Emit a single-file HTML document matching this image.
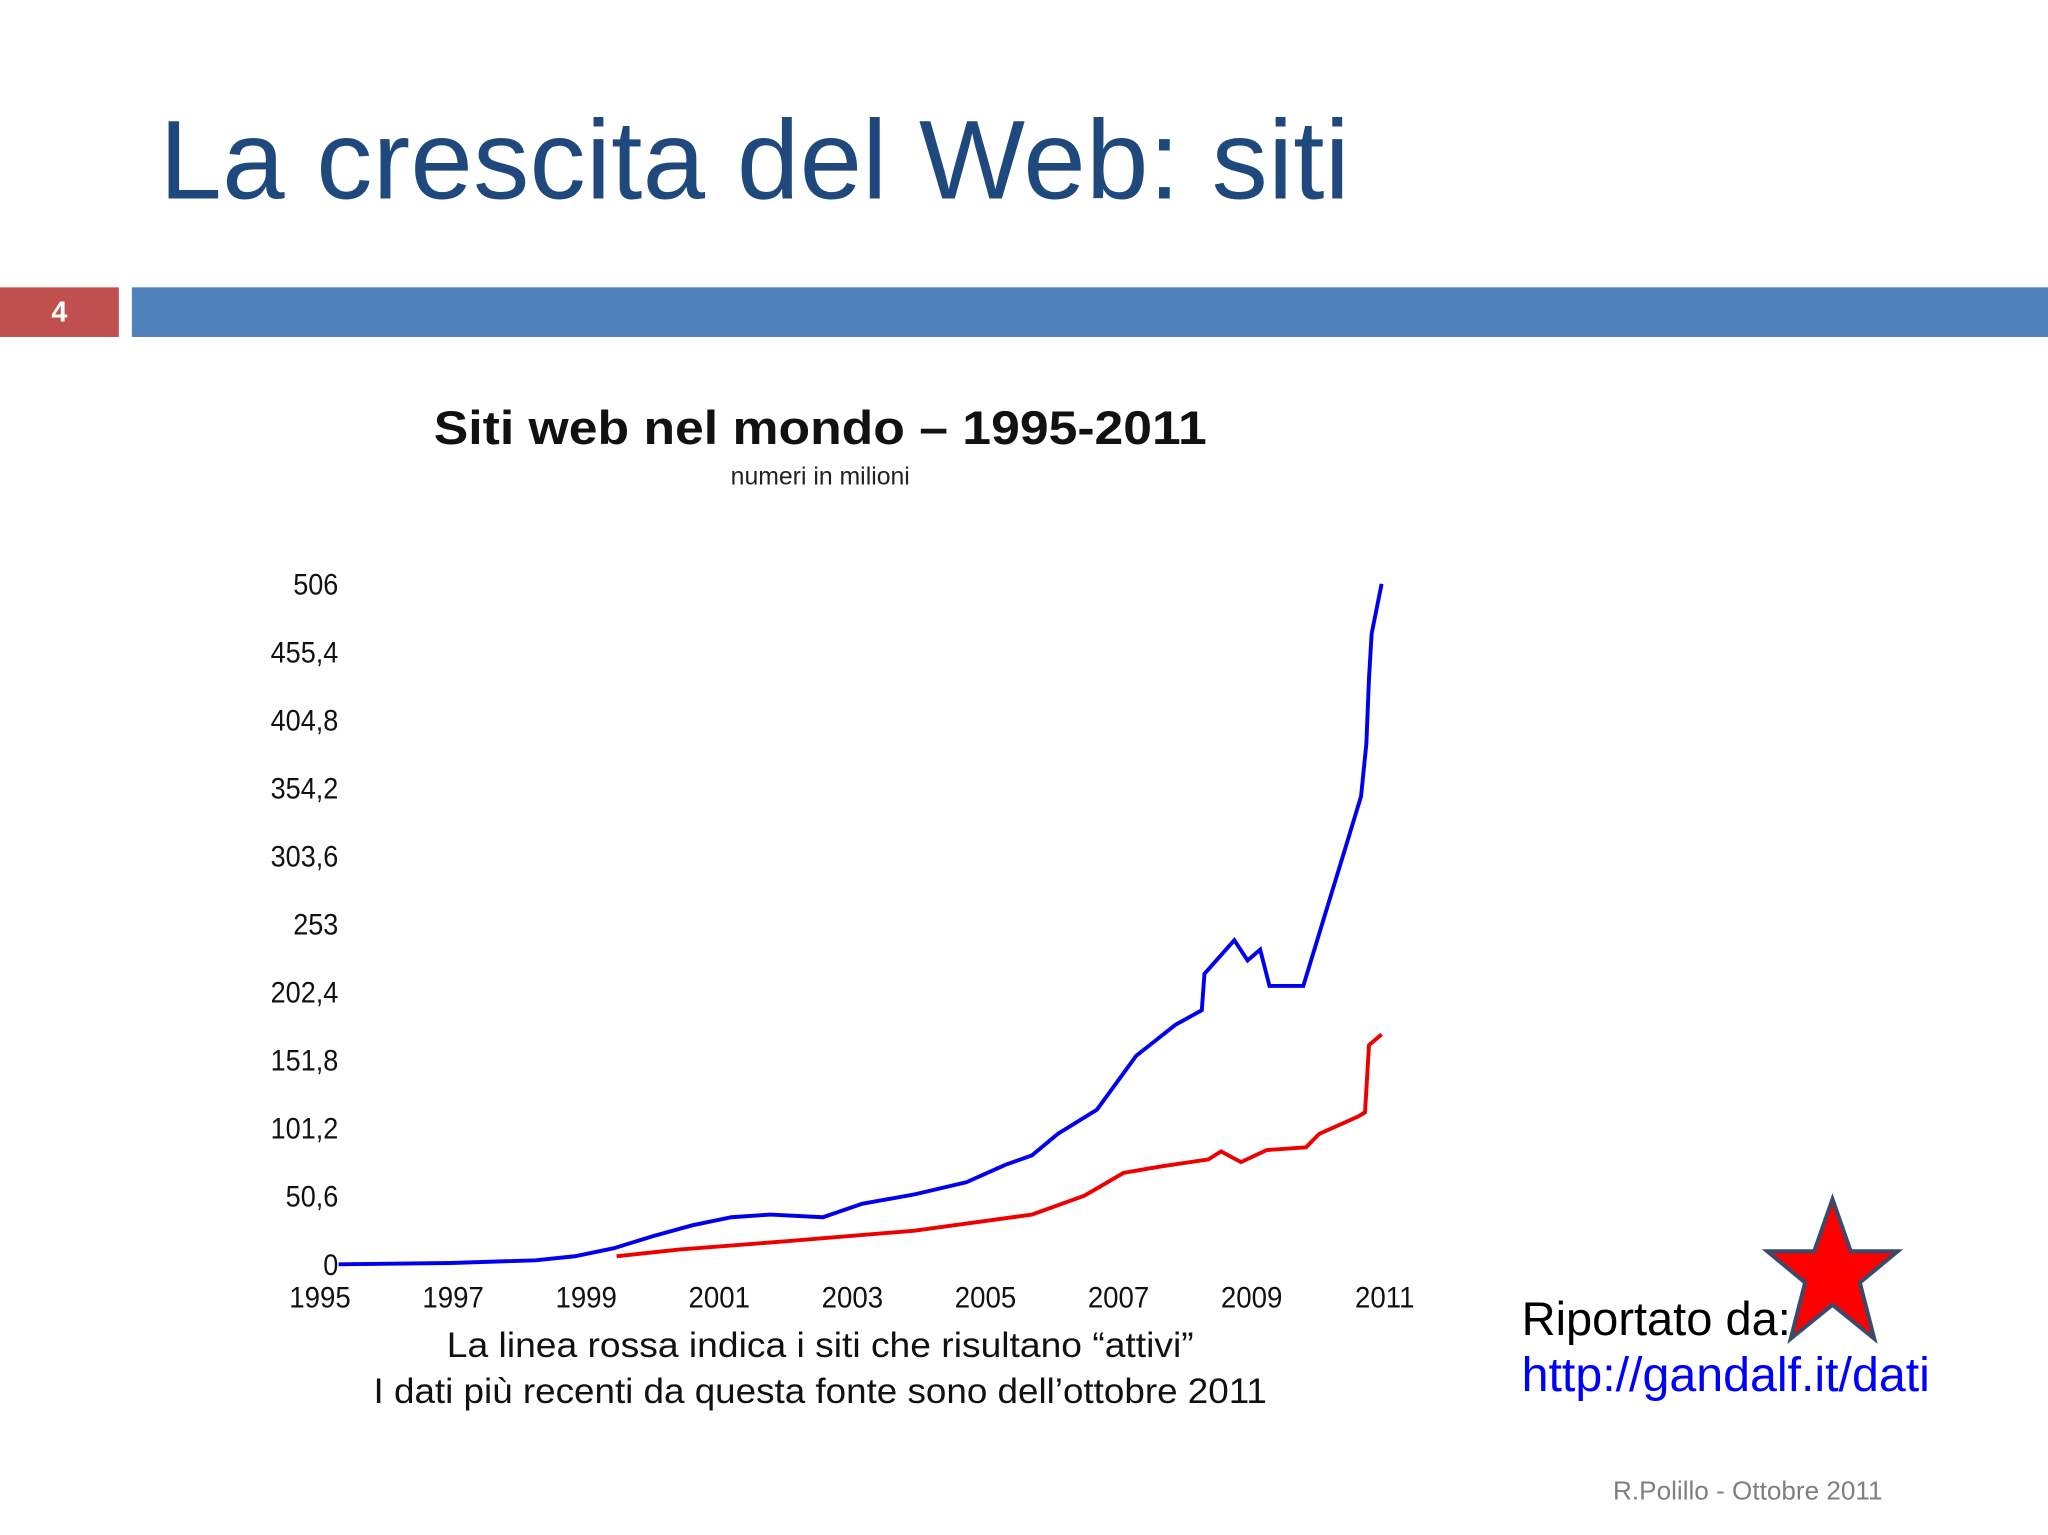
<!DOCTYPE html>
<html><head><meta charset="utf-8">
<style>
html,body{margin:0;padding:0;background:#fff;overflow:hidden}
#wrap{position:absolute;left:0;top:0;width:1568px;height:1175px;transform:scale(1.30612);transform-origin:0 0;font-family:"Liberation Sans",sans-serif}
.abs{position:absolute;white-space:nowrap}
</style></head><body>
<div id="wrap">
<div class="abs" style="left:122px;top:74px;font-size:86px;color:#1f497d;letter-spacing:0.2px">La crescita del Web: siti</div>
<div class="abs" style="left:0;top:220px;width:91px;height:38px;background:#c0504d;color:#fff;font-weight:bold;font-size:22px;line-height:38px;text-align:center">4</div>
<div class="abs" style="left:101px;top:220px;width:1467px;height:38px;background:#4f81bd"></div>
<svg class="abs" style="left:0;top:0" width="1568" height="1175">
<text x="628" y="340" text-anchor="middle" font-size="36" font-weight="bold" fill="#111" transform="translate(628 0) scale(1.1 1) translate(-628 0)">Siti web nel mondo – 1995-2011</text>
<text x="628" y="371" text-anchor="middle" font-size="19" fill="#222">numeri in milioni</text>
<g id="yaxis"></g>
<g id="xaxis"></g>
<polyline id="blue" fill="none" stroke="#0000ee" stroke-width="3"/>
<polyline id="red" fill="none" stroke="#ee0000" stroke-width="3"/>
<text x="628" y="1039" text-anchor="middle" font-size="27" fill="#111" transform="translate(628 0) scale(1.056 1) translate(-628 0)">La linea rossa indica i siti che risultano “attivi”</text>
<text x="628" y="1074" text-anchor="middle" font-size="27" fill="#111" transform="translate(628 0) scale(1.044 1) translate(-628 0)">I dati più recenti da questa fonte sono dell’ottobre 2011</text>
<text x="1165" y="1022" font-size="36" fill="#000">Riportato da:</text>
<text x="1165" y="1065" font-size="37" fill="#0000ff">http://gandalf.it/dati</text>
<rect x="1519" y="1030" width="50" height="50" fill="#fff"/>
<polygon fill="#ff0000" stroke="#3a4a6a" stroke-width="3" points="1403,918 1417,958 1453,958 1424,982 1435,1025 1403,999 1371,1025 1382,982 1353,958 1389,958"/>
<text x="1235" y="1148" font-size="20" fill="#7f7f7f">R.Polillo - Ottobre 2011</text>
</svg>
</div>
<script>
const yTicks=["0","50,6","101,2","151,8","202,4","253","303,6","354,2","404,8","455,4","506"];
const yTickVals=[0,50.6,101.2,151.8,202.4,253,303.6,354.2,404.8,455.4,506];
const xTicks=[1995,1997,1999,2001,2003,2005,2007,2009,2011];
const blueYears=[1995.28,1996.97,1998.25,1998.84,1999.43,2000.02,2000.61,2001.2,2001.79,2002.58,2003.17,2003.96,2004.74,2005.33,2005.73,2006.12,2006.71,2007.3,2007.89,2008.29,2008.33,2008.78,2008.98,2009.17,2009.31,2009.82,2010.06,2010.45,2010.69,2010.77,2010.81,2010.85,2011.0];
const blueVals=[0,1,3,6,12,21,29,35,37,35,45,52,61,74,81,97,115,155,178,189,216,241,226,234,207,207,246,309,348,387,436,469,506];
const redYears=[1999.47,2000.41,2001.99,2003.96,2005.73,2006.52,2007.11,2007.7,2008.39,2008.58,2008.88,2009.27,2009.86,2010.06,2010.65,2010.75,2010.81,2011.0];
const redVals=[6,11,17,25,37,51,68,73,78,84,76,85,87,97,110,113,163,171];
const NS="http://www.w3.org/2000/svg";
function X(yr){return 245+(yr-1995)*50.8;}
function Y(v){return 968-v*(521/506);}
const ya=document.getElementById('yaxis');
yTicks.forEach((t,i)=>{const e=document.createElementNS(NS,'text');


e.setAttribute('x',259);e.setAttribute('y',Y(yTickVals[i])+8);e.setAttribute('text-anchor','end');e.setAttribute('font-size','23');e.setAttribute('fill','#111');e.setAttribute('transform',`translate(259 0) scale(0.9 1) translate(-259 0)`);e.textContent=t;ya.appendChild(e);});
const xa=document.getElementById('xaxis');
xTicks.forEach(t=>{const e=document.createElementNS(NS,'text');


const cx=X(t)+(t-1995)*0.15;e.setAttribute('x',cx);e.setAttribute('y',1001);e.setAttribute('text-anchor','middle');e.setAttribute('font-size','23');e.setAttribute('fill','#111');e.setAttribute('transform',`translate(${cx} 0) scale(0.92 1) translate(${-cx} 0)`);e.textContent=t;xa.appendChild(e);});
document.getElementById('blue').setAttribute('points',blueYears.map((y,i)=>X(y)+','+Y(blueVals[i])).join(' '));
document.getElementById('red').setAttribute('points',redYears.map((y,i)=>X(y)+','+Y(redVals[i])).join(' '));
</script>
</body></html>
